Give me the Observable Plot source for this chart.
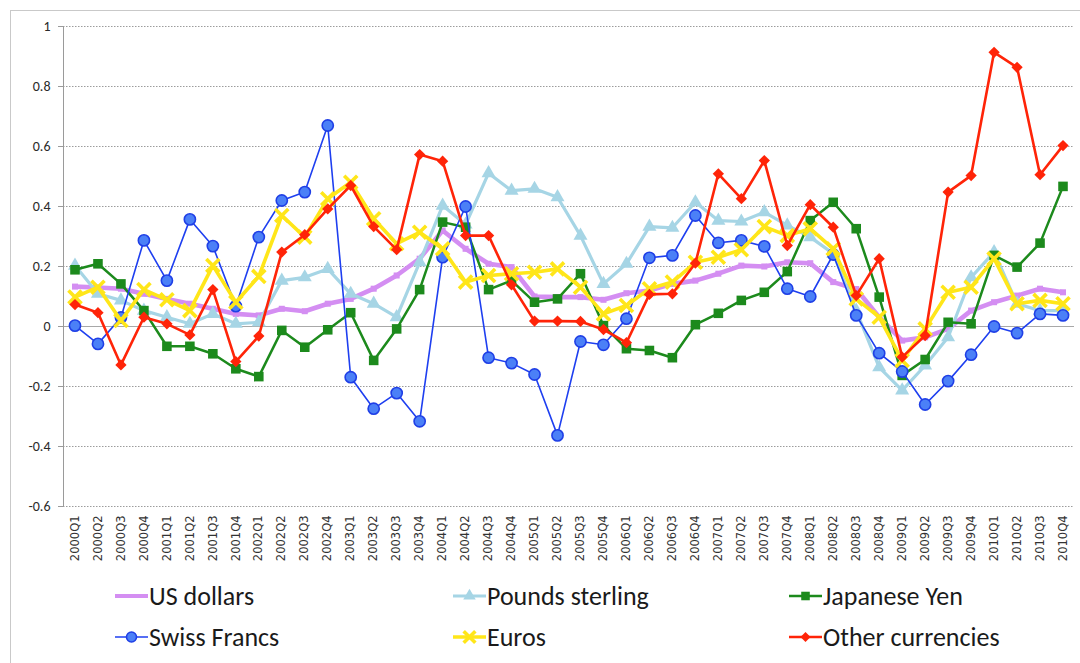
<!DOCTYPE html>
<html>
<head>
<meta charset="utf-8">
<script src="https://cdn.jsdelivr.net/npm/d3@7"></script>
<script src="https://cdn.jsdelivr.net/npm/@observablehq/plot@0.6"></script>
<style>
  html, body { margin: 0; padding: 0; background: #fff; }
  #wrap { position: relative; width: 1080px; height: 663px; overflow: hidden; background: #fff; }
  #frame { position: absolute; left: 10px; top: 10px; width: 1100px; height: 700px;
           border-left: 1px solid #c9c9c9; border-top: 1px solid #c9c9c9; box-sizing: border-box; }
  #chart { position: absolute; left: 0; top: 0; }
  .leg { position: absolute; display: flex; align-items: center; font-family: Carlito, Calibri, Lato, sans-serif;
         font-size: 26px; color: #1a1a1a; white-space: nowrap; }
  .leg svg { display: block; margin-right: 1px; }
</style>
</head>
<body>
<div id="wrap">
  <div id="frame"></div>
  <div id="chart"></div>
  <div id="legend"></div>
</div>
<script>
const quarters = ["2000Q1","2000Q2","2000Q3","2000Q4","2001Q1","2001Q2","2001Q3","2001Q4",
  "2002Q1","2002Q2","2002Q3","2002Q4","2003Q1","2003Q2","2003Q3","2003Q4",
  "2004Q1","2004Q2","2004Q3","2004Q4","2005Q1","2005Q2","2005Q3","2005Q4",
  "2006Q1","2006Q2","2006Q3","2006Q4","2007Q1","2007Q2","2007Q3","2007Q4",
  "2008Q1","2008Q2","2008Q3","2008Q4","2009Q1","2009Q2","2009Q3","2009Q4",
  "2010Q1","2010Q2","2010Q3","2010Q4"];

const usDollars = [0.133,0.13,0.126,0.109,0.092,0.076,0.059,0.042,0.037,0.059,0.051,0.076,
  0.092,0.126,0.17,0.226,0.32,0.259,0.209,0.198,0.1,0.098,0.098,0.089,
  0.111,0.12,0.142,0.153,0.176,0.203,0.2,0.214,0.211,0.148,0.125,0.031,
  -0.047,-0.036,-0.008,0.053,0.081,0.103,0.126,0.114];
const poundsSterling = [0.203,0.109,0.087,0.053,0.031,0.009,0.042,0.009,0.014,0.153,0.164,0.192,
  0.109,0.076,0.031,0.214,0.403,0.34,0.511,0.453,0.459,0.431,0.303,0.142,
  0.209,0.333,0.329,0.414,0.353,0.35,0.381,0.337,0.298,0.243,0.053,-0.136,
  -0.213,-0.13,-0.036,0.164,0.248,0.076,0.053,0.053];
const japaneseYen = [0.189,0.209,0.142,0.053,-0.066,-0.066,-0.091,-0.141,-0.167,-0.013,-0.069,-0.011,
  0.046,-0.113,-0.008,0.123,0.348,0.331,0.123,0.153,0.081,0.092,0.176,0.003,
  -0.074,-0.08,-0.104,0.006,0.044,0.087,0.114,0.183,0.353,0.414,0.326,0.098,
  -0.163,-0.11,0.014,0.009,0.237,0.198,0.278,0.467];
const swissFrancs = [0.003,-0.058,0.03,0.287,0.153,0.357,0.268,0.068,0.298,0.42,0.448,0.67,
  -0.169,-0.274,-0.222,-0.316,0.231,0.40,-0.104,-0.122,-0.16,-0.363,-0.05,-0.061,
  0.026,0.229,0.237,0.37,0.279,0.287,0.267,0.126,0.10,0.24,0.037,-0.089,
  -0.15,-0.26,-0.182,-0.094,0.0,-0.022,0.042,0.037];
const euros = [0.098,0.131,0.02,0.123,0.089,0.053,0.203,0.081,0.167,0.37,0.298,0.426,
  0.481,0.359,0.276,0.314,0.259,0.148,0.17,0.176,0.181,0.192,0.131,0.042,
  0.07,0.126,0.148,0.214,0.231,0.256,0.333,0.303,0.326,0.259,0.092,0.031,
  -0.113,-0.008,0.114,0.131,0.226,0.076,0.087,0.076];
const otherCurrencies = [0.073,0.046,-0.128,0.031,0.009,-0.028,0.123,-0.117,-0.032,0.248,0.306,0.392,
  0.47,0.333,0.256,0.573,0.551,0.303,0.303,0.139,0.018,0.018,0.017,-0.01,
  -0.054,0.107,0.109,0.211,0.509,0.426,0.553,0.27,0.406,0.331,0.103,0.226,
  -0.102,-0.03,0.448,0.503,0.914,0.864,0.506,0.603];

const seriesNames = ["US dollars","Pounds sterling","Japanese Yen","Swiss Francs","Euros","Other currencies"];
const seriesValues = [usDollars, poundsSterling, japaneseYen, swissFrancs, euros, otherCurrencies];

const yTicks = [1, 0.8, 0.6, 0.4, 0.2, 0, -0.2, -0.4, -0.6];
const yTickLabels = ["1","0.8","0.6","0.4","0.2","0","-0.2","-0.4","-0.6"];

// diamond symbol (square rotated 45°)
const diamondSym = { draw(ctx, size) { const r = Math.sqrt(size / 2); ctx.moveTo(0, -r); ctx.lineTo(r, 0); ctx.lineTo(0, r); ctx.lineTo(-r, 0); ctx.closePath(); } };

const styles = [
  {line: "#d48ef2", lw: 4.6, symbol: "square", r: 3.4, fill: "#d48ef2", stroke: "none", sw: 0},
  {line: "#a6d5e5", lw: 3.2, symbol: "triangle", r: 5.2, fill: "#a6d5e5", stroke: "none", sw: 0},
  {line: "#1c8a1c", lw: 2.5, symbol: "square", r: 5.4, fill: "#1c8a1c", stroke: "none", sw: 0},
  {line: "#1e3ff0", lw: 1.6, symbol: "circle", r: 5.6, fill: "#4b80f7", stroke: "#1f3fe6", sw: 1.6},
  {line: "#ffe619", lw: 3.6, symbol: "times", r: 6, fill: "none", stroke: "#ffe619", sw: 3.6},
  {line: "#ff2408", lw: 2.6, symbol: diamondSym, r: 4.5, fill: "#ff2408", stroke: "none", sw: 0}
];

const rows = [];
seriesNames.forEach((name, s) => seriesValues[s].forEach((v, i) => rows.push({q: quarters[i], v, series: name})));

const seriesMarks = [];
seriesNames.forEach((name, s) => {
  const st = styles[s];
  const d = rows.filter(r => r.series === name);
  seriesMarks.push(Plot.line(d, {x: "q", y: "v", stroke: st.line, strokeWidth: st.lw, strokeLinejoin: "round"}));
  seriesMarks.push(Plot.dot(d, {x: "q", y: "v", symbol: st.symbol, r: st.r, fill: st.fill, stroke: st.stroke, strokeWidth: st.sw}));
});

const chart = Plot.plot({
  width: 1080,
  height: 575,
  marginLeft: 63,
  marginRight: 6,
  marginTop: 26,
  marginBottom: 69,
  style: {background: "transparent", overflow: "visible"},
  x: {type: "point", domain: quarters, padding: 0.5, label: null},
  y: {domain: [-0.6, 1], label: null},
  marks: [
    Plot.gridY(yTicks.filter(d => d !== 0), {stroke: "#9c9c9c", strokeOpacity: 1, strokeDasharray: "1.5,1.5", strokeWidth: 1}),
    Plot.ruleY([0], {stroke: "#a8a8a8", strokeWidth: 1.2}),
    Plot.frame({anchor: "left", stroke: "#9a9a9a"}),
    Plot.axisY({ticks: yTicks, tickSize: 5, tickPadding: 8, stroke: "#9a9a9a", fill: "#2a2a2a",
      tickFormat: d => yTickLabels[yTicks.indexOf(d)], fontSize: 14, fontFamily: "Carlito, Calibri, Lato, sans-serif", label: null}),
    Plot.axisX({tickRotate: -90, tickSize: 0, tickPadding: 9, fill: "#333", fontSize: 11.5,
      fontFamily: "DejaVu Sans, sans-serif", label: null}),
    ...seriesMarks
  ]
});
document.getElementById("chart").appendChild(chart);

// legend
const legendPos = [[115, 596], [453, 596], [789, 596], [115, 637], [453, 637], [789, 637]];
const legend = document.getElementById("legend");
seriesNames.forEach((name, s) => {
  const st = styles[s];
  const div = document.createElement("div");
  div.className = "leg";
  div.style.left = legendPos[s][0] + "px";
  div.style.top = (legendPos[s][1] - 17) + "px";
  div.style.height = "34px";
  const svg = d3.create("svg").attr("width", 33).attr("height", 20);
  svg.append("line").attr("x1", 0).attr("x2", 33).attr("y1", 10).attr("y2", 10)
    .attr("stroke", st.line).attr("stroke-width", Math.min(st.lw, 4));
  if (s !== 0) {
    const sym = typeof st.symbol === "string"
      ? ({square: d3.symbolSquare, triangle: d3.symbolTriangle, circle: d3.symbolCircle, times: d3.symbolTimes})[st.symbol]
      : st.symbol;
    svg.append("path").attr("transform", "translate(16.5,10)")
      .attr("d", d3.symbol(sym, Math.PI * st.r * st.r * 0.8)())
      .attr("fill", st.fill).attr("stroke", st.stroke === "none" ? null : st.stroke)
      .attr("stroke-width", st.sw);
  }
  div.appendChild(svg.node());
  const span = document.createElement("span");
  span.textContent = name;
  div.appendChild(span);
  legend.appendChild(div);
});
</script>
</body>
</html>
